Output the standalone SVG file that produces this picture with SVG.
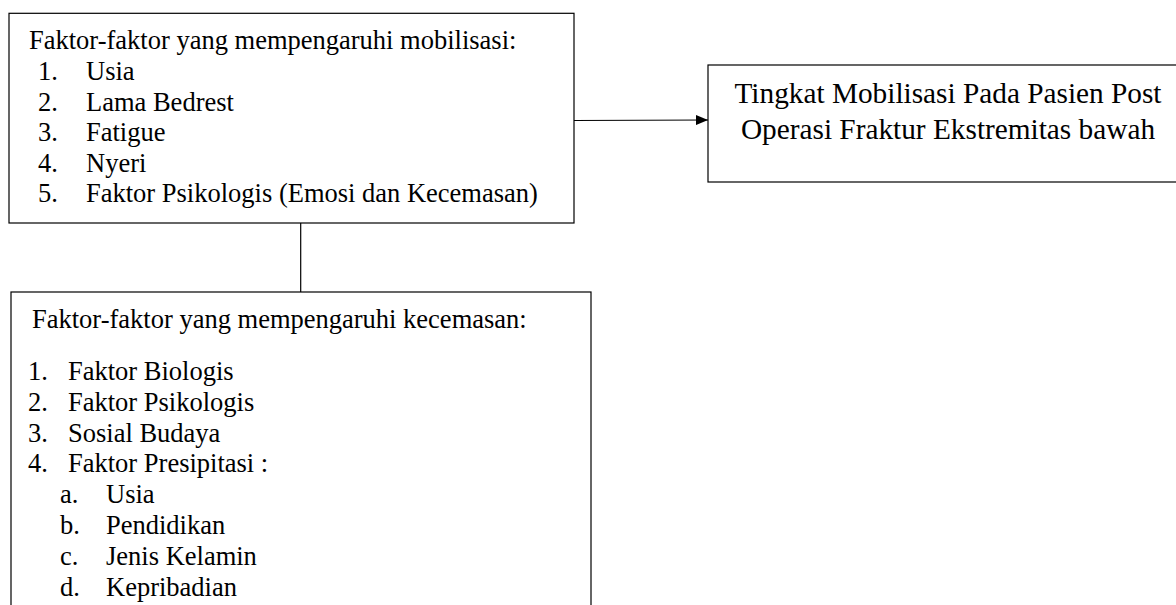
<svg xmlns="http://www.w3.org/2000/svg" width="1176" height="605" viewBox="0 0 1176 605">
<defs>
<style>
.box{fill:#fff;stroke:#000;stroke-width:1.2}
.t{font-family:"Liberation Serif","Times New Roman",serif;font-size:26.5px;fill:#000}
.tb{font-family:"Liberation Serif","Times New Roman",serif;font-size:29.3px;fill:#000}
.ln{stroke:#000;stroke-width:1.2;fill:none}
</style>
<marker id="arr" viewBox="0 0 12 10" refX="12" refY="5" markerWidth="12" markerHeight="10" markerUnits="userSpaceOnUse" orient="auto">
<path d="M0,0 L12,5 L0,10 Z" fill="#000"/>
</marker>
</defs>
<rect width="1176" height="605" fill="#fff"/>
<g id="connectors">
<line class="ln" x1="300.7" y1="223" x2="300.7" y2="292"/>
<line class="ln" x1="574" y1="120.5" x2="708" y2="120" marker-end="url(#arr)"/>
</g>
<g id="node-mobilisasi-factors">
<rect class="box" x="9" y="13.3" width="565" height="209.7"/>
<text class="t" x="29" y="49">Faktor-faktor yang mempengaruhi mobilisasi:</text>
<text class="t" x="38" y="80">1.</text><text class="t" x="86" y="80">Usia</text>
<text class="t" x="38" y="110.5">2.</text><text class="t" x="86" y="110.5">Lama Bedrest</text>
<text class="t" x="38" y="141">3.</text><text class="t" x="86" y="141">Fatigue</text>
<text class="t" x="38" y="171.5">4.</text><text class="t" x="86" y="171.5">Nyeri</text>
<text class="t" x="38" y="202">5.</text><text class="t" x="86" y="202">Faktor Psikologis (Emosi dan Kecemasan)</text>
</g>
<g id="node-tingkat-mobilisasi">
<rect class="box" x="708" y="65" width="482" height="117"/>
<text class="tb" x="948" y="103" text-anchor="middle">Tingkat Mobilisasi Pada Pasien Post</text>
<text class="tb" x="948" y="139" text-anchor="middle">Operasi Fraktur Ekstremitas bawah</text>
</g>
<g id="node-kecemasan-factors">
<rect class="box" x="11" y="292" width="580" height="330"/>
<text class="t" x="32" y="328">Faktor-faktor yang mempengaruhi kecemasan:</text>
<text class="t" x="28" y="380">1.</text><text class="t" x="68" y="380">Faktor Biologis</text>
<text class="t" x="28" y="410.8">2.</text><text class="t" x="68" y="410.8">Faktor Psikologis</text>
<text class="t" x="28" y="441.6">3.</text><text class="t" x="68" y="441.6">Sosial Budaya</text>
<text class="t" x="28" y="472.4">4.</text><text class="t" x="68" y="472.4">Faktor Presipitasi :</text>
<text class="t" x="60" y="503.2">a.</text><text class="t" x="106" y="503.2">Usia</text>
<text class="t" x="60" y="534">b.</text><text class="t" x="106" y="534">Pendidikan</text>
<text class="t" x="60" y="564.8">c.</text><text class="t" x="106" y="564.8">Jenis Kelamin</text>
<text class="t" x="60" y="595.6">d.</text><text class="t" x="106" y="595.6">Kepribadian</text>
</g>
</svg>
